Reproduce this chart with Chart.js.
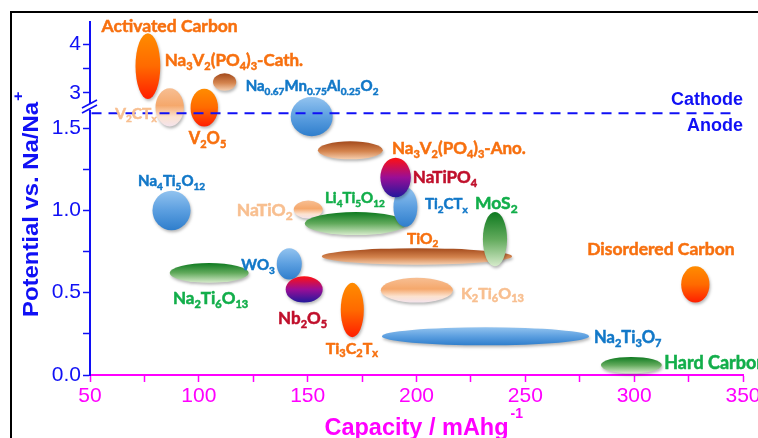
<!DOCTYPE html>
<html>
<head>
<meta charset="utf-8">
<script src="https://cdn.jsdelivr.net/npm/chart.js@4.4.1/dist/chart.umd.min.js"></script>
<style>
  html, body { margin: 0; padding: 0; background: #fff; overflow: hidden; width: 758px; height: 438px; }
  #wrap { position: absolute; left: 0; top: 0; width: 800px; height: 438px; }
</style>
</head>
<body>
<div id="wrap"><canvas id="chart" width="800" height="438"></canvas></div>
<script>
// ---- data: capacity (mAh/g) and potential (V vs Na/Na+) window of each material ----
const materials = ['Activated Carbon', 'Na3V2(PO4)3-Cath.', 'V2CTx', 'V2O5', 'Na0.67Mn0.75Al0.25O2',
  'Na3V2(PO4)3-Ano.', 'NaTiO2', 'Li4Ti5O12', 'Ti2CTx', 'NaTiPO4', 'TiO2', 'MoS2', 'Na4Ti5O12', 'WO3',
  'Nb2O5', 'Na2Ti6O13', 'Ti3C2Tx', 'K2Ti6O13', 'Na2Ti3O7', 'Hard Carbon', 'Disordered Carbon'];
const capacityMin = [70.9, 106.5, 80.1, 96.2, 142.2, 154.7, 143.6, 148.7, 189.4, 183.4, 156.5, 230.5, 78.7, 135.8, 139.9, 86.6, 165.2, 183.6, 184.1, 284.7, 321.6];
const capacityMax = [82.3, 117.2, 93.1, 108.8, 161.5, 184.5, 156.9, 195.6, 200.4, 197.4, 243.9, 241.6, 96.2, 147.3, 156.9, 122.9, 175.8, 216.7, 279.3, 312.7, 334.6];
const potentialMin = [2.87, 3.04, 1.51, 1.51, 1.45, 1.31, 0.95, 0.85, 0.90, 1.08, 0.67, 0.66, 0.88, 0.58, 0.44, 0.56, 0.23, 0.44, 0.18, 0.01, 0.44];
const potentialMax = [4.23, 3.40, 3.09, 3.08, 2.91, 1.42, 1.06, 0.99, 1.14, 1.32, 0.77, 0.99, 1.12, 0.77, 0.60, 0.68, 0.56, 0.59, 0.29, 0.11, 0.66];

// label text, {..} = subscript
const labelText = ['Activated Carbon', 'Na{3}V{2}(PO{4}){3}-Cath.', 'V{2}CT{x}', 'V{2}O{5}', 'Na{0.67}Mn{0.75}Al{0.25}O{2}',
  'Na{3}V{2}(PO{4}){3}-Ano.', 'NaTiO{2}', 'Li{4}Ti{5}O{12}', 'Ti{2}CT{x}', 'NaTiPO{4}', 'TiO{2}', 'MoS{2}', 'Na{4}Ti{5}O{12}', 'WO{3}',
  'Nb{2}O{5}', 'Na{2}Ti{6}O{13}', 'Ti{3}C{2}T{x}', 'K{2}Ti{6}O{13}', 'Na{2}Ti{3}O{7}', 'Hard Carbon', 'Disordered Carbon'];

const capacityTicks = [50, 100, 150, 200, 250, 300, 350];
const lowerPotentialTicks = [0, 0.5, 1.0, 1.5];
const upperPotentialTicks = [3, 4];
const cathodeAnodeSplit = 1.59;
const splitLine = [50.7, 345.5];

// ---- layout / style (not data) ----
const AXIS_BREAK = 2.0; // potentials above this go on the upper axis segment
const labelAnchor = [ // [capacity, potential, align]
  [55.3, 4.378, 'left'], [84.3, 3.676, 'left'], [80.6, 1.592, 'right'], [104.0, 1.44, 'center'], [121.5, 3.14, 'left'],
  [188.7, 1.379, 'left'], [143.1, 1.002, 'right'], [171.7, 1.075, 'center'], [203.9, 1.039, 'left'], [198.3, 1.203, 'left'],
  [195.6, 0.832, 'left'], [226.9, 1.045, 'left'], [87.5, 1.179, 'center'], [134.9, 0.668, 'right'], [147.7, 0.346, 'center'],
  [105.4, 0.468, 'center'], [170.3, 0.164, 'center'], [220.4, 0.498, 'left'], [281.6, 0.231, 'left'], [313.8, 0.073, 'left'],
  [278.4, 0.766, 'left']
];
const labelSize = [17.5, 17, 15.5, 16.5, 15, 17, 17.5, 15, 15, 17, 15.5, 17.5, 15, 15, 17, 17, 16, 16, 16.5, 18, 17.5];
const fillKind = ['fire', 'brown', 'peach', 'fire', 'blue', 'brown', 'peach', 'green', 'blue', 'purple', 'brown', 'green',
  'blue', 'blue', 'purple', 'green', 'fire', 'peach', 'blue', 'green', 'fire'];
const textKind = ['orange', 'orange', 'peach', 'orange', 'blue', 'orange', 'peach', 'green', 'blue', 'crimson', 'orange', 'green',
  'blue', 'blue', 'crimson', 'green', 'orange', 'peach', 'blue', 'green', 'orange'];
const gradients = {
  fire:   [[0, '#FF8C00'], [0.5, '#FF6A00'], [1, '#FF1E00']],
  brown:  [[0, '#A34A1C'], [0.55, '#D4844E'], [1, '#F6CFB0']],
  peach:  [[0, '#F7BE92'], [0.45, '#F5A86C'], [0.75, '#FCE2CF'], [1, '#F3E3EC']],
  blue:   [[0, '#92C3EF'], [0.5, '#5C9FE0'], [1, '#2F7ECC']],
  green:  [[0, '#0E7A20'], [0.5, '#62AA5C'], [1, '#D6EBCB']],
  purple: [[0, '#FF1010'], [0.5, '#9A0E96'], [1, '#22189C']]
};
const textColors = { orange: '#F7700F', peach: '#F8BF90', blue: '#1278C8', green: '#12AE4A', crimson: '#C0102C' };
const AXIS_BLUE = '#1010F5';
const MAGENTA = '#FF00FF';

function potentialPixel(chart, v) {
  return v > AXIS_BREAK ? chart.scales.yTop.getPixelForValue(v) : chart.scales.y.getPixelForValue(v);
}

function drawRich(ctx, text, x, y, align, size, color) {
  const parts = [];
  text.replace(/\{([^}]*)\}|([^{]+)/g, (m, sub, main) => {
    parts.push(sub !== undefined ? { t: sub, sub: true } : { t: main, sub: false });
  });
  const mainFont = `bold ${size}px Lato, sans-serif`;
  const subFont = `bold ${Math.round(size * 0.66)}px Lato, sans-serif`;
  let width = 0;
  parts.forEach(p => { ctx.font = p.sub ? subFont : mainFont; p.w = ctx.measureText(p.t).width; width += p.w; });
  let cx = align === 'left' ? x : align === 'right' ? x - width : x - width / 2;
  const base = y + size * 0.36;
  ctx.fillStyle = color;
  ctx.strokeStyle = color;
  ctx.lineWidth = 0.5;
  ctx.textAlign = 'left';
  ctx.textBaseline = 'alphabetic';
  parts.forEach(p => {
    ctx.font = p.sub ? subFont : mainFont;
    const yy = p.sub ? base + size * 0.22 : base;
    ctx.fillText(p.t, cx, yy);
    ctx.strokeText(p.t, cx, yy);
    cx += p.w;
  });
}

const ellipsePlugin = {
  id: 'ellipses',
  beforeDatasetsDraw(chart) {
    const ctx = chart.ctx;
    const xs = chart.scales.x;
    materials.forEach((name, i) => {
      const x0 = xs.getPixelForValue(capacityMin[i]);
      const x1 = xs.getPixelForValue(capacityMax[i]);
      const yTop = potentialPixel(chart, potentialMax[i]);
      const yBot = potentialPixel(chart, potentialMin[i]);
      const g = ctx.createLinearGradient(0, yTop, 0, yBot);
      gradients[fillKind[i]].forEach(([o, c]) => g.addColorStop(o, c));
      ctx.save();
      ctx.shadowColor = 'rgba(0,0,0,0.28)';
      ctx.shadowBlur = 3;
      ctx.shadowOffsetX = 1;
      ctx.shadowOffsetY = 2;
      ctx.beginPath();
      ctx.ellipse((x0 + x1) / 2, (yTop + yBot) / 2, (x1 - x0) / 2, (yBot - yTop) / 2, 0, 0, Math.PI * 2);
      ctx.fillStyle = g;
      ctx.fill();
      ctx.restore();
    });
  },
  afterDatasetsDraw(chart) {
    const ctx = chart.ctx;
    const xs = chart.scales.x;
    ctx.save();
    materials.forEach((name, i) => {
      const [c, p, align] = labelAnchor[i];
      drawRich(ctx, labelText[i], xs.getPixelForValue(c), potentialPixel(chart, p), align, labelSize[i], textColors[textKind[i]]);
    });
    // cathode / anode
    const ySplit = chart.scales.y.getPixelForValue(cathodeAnodeSplit);
    ctx.font = 'bold 18px "Liberation Sans", Arial, sans-serif';
    ctx.fillStyle = AXIS_BLUE;
    ctx.textAlign = 'right';
    ctx.textBaseline = 'middle';
    ctx.fillText('Cathode', chart.chartArea.right, ySplit - 13);
    ctx.fillText('Anode', chart.chartArea.right, ySplit + 13);
    ctx.restore();
  },
  afterDraw(chart) {
    const ctx = chart.ctx;
    const area = chart.chartArea;
    ctx.save();
    // outer frame
    ctx.strokeStyle = '#000';
    ctx.lineWidth = 2;
    ctx.beginPath();
    ctx.moveTo(11, 800);
    ctx.lineTo(11, 12);
    ctx.lineTo(800, 12);
    ctx.stroke();

    // axis break marks
    const xb = area.left;
    const yb = chart.scales.y.top;
    ctx.fillStyle = '#fff';
    ctx.fillRect(xb - 2, yb - 3, 4, 6);
    ctx.strokeStyle = AXIS_BLUE;
    ctx.lineWidth = 1.6;
    ctx.beginPath();
    ctx.moveTo(xb - 8, yb + 1); ctx.lineTo(xb + 7, yb - 7);
    ctx.moveTo(xb - 8, yb + 6); ctx.lineTo(xb + 7, yb - 2);
    ctx.stroke();

    // y title
    ctx.translate(37.5, 317);
    ctx.rotate(-Math.PI / 2);
    ctx.font = 'bold 22px "Liberation Sans", Arial, sans-serif';
    const main = 'Potential vs. Na/Na';
    const w = ctx.measureText(main).width;
    const sx = 215 / w;
    ctx.scale(sx, 1);
    ctx.fillStyle = AXIS_BLUE;
    ctx.textAlign = 'left';
    ctx.textBaseline = 'alphabetic';
    ctx.fillText(main, 0, 0);
    ctx.font = 'bold 15px "Liberation Sans", Arial, sans-serif';
    ctx.fillText('+', w + 1, -15);
    ctx.setTransform(1, 0, 0, 1, 0, 0);

    // x title
    ctx.fillStyle = MAGENTA;
    ctx.font = 'bold 23.5px "Liberation Sans", Arial, sans-serif';
    const xt = 'Capacity / mAhg';
    const xw = ctx.measureText(xt).width;
    const xl = (area.left + area.right) / 2 - xw / 2;
    ctx.fillText(xt, xl, 435);
    ctx.font = 'bold 14px "Liberation Sans", Arial, sans-serif';
    ctx.fillText('-1', xl + xw + 2, 418);
    ctx.restore();
  }
};

const minorEvery = (arr, step) => {
  const out = [];
  for (let v = arr[0]; v <= arr[arr.length - 1] + 1e-9; v += step) out.push({ value: +v.toFixed(3) });
  return out;
};

const tickFont = { family: '"Liberation Sans", Arial, sans-serif', size: 21 };

new Chart(document.getElementById('chart'), {
  type: 'scatter',
  data: {
    datasets: [{
      label: 'Cathode / Anode',
      data: splitLine.map(c => ({ x: c, y: cathodeAnodeSplit })),
      showLine: true,
      borderColor: AXIS_BLUE,
      borderWidth: 1.8,
      borderDash: [10, 7],
      pointRadius: 0,
      yAxisID: 'y'
    }]
  },
  options: {
    responsive: false,
    animation: false,
    layout: { padding: { left: 0, top: 22, right: 57, bottom: 0 } },
    plugins: { legend: { display: false }, tooltip: { enabled: false } },
    scales: {
      x: {
        type: 'linear', min: 50, max: 350,
        afterBuildTicks: s => { s.ticks = minorEvery(capacityTicks, 25); },
        afterFit: s => { s.height = 63; },
        ticks: {
          autoSkip: false, maxRotation: 0, minRotation: 0, padding: 2, color: MAGENTA, font: tickFont,
          callback: v => capacityTicks.includes(v) ? String(v) : ''
        },
        grid: { drawOnChartArea: false, drawTicks: true, tickLength: 7, tickColor: MAGENTA, tickWidth: 1.5 },
        border: { color: MAGENTA, width: 2 }
      },
      y: {
        type: 'linear', position: 'left', stack: 'potential', stackWeight: 268,
        min: 0, max: 1.628,
        afterBuildTicks: s => { s.ticks = minorEvery(lowerPotentialTicks, 0.25); },
        afterFit: s => { s.width = 90; },
        ticks: {
          autoSkip: false, padding: 2, color: AXIS_BLUE, font: tickFont,
          callback: v => lowerPotentialTicks.includes(v) ? v.toFixed(1) : ''
        },
        grid: { drawOnChartArea: false, drawTicks: true, tickLength: 7, tickColor: AXIS_BLUE, tickWidth: 1.5 },
        border: { color: AXIS_BLUE, width: 2 }
      },
      yTop: {
        type: 'linear', position: 'left', stack: 'potential', stackWeight: 85,
        min: 2.705, max: 4.46,
        afterBuildTicks: s => { s.ticks = minorEvery(upperPotentialTicks, 0.5); },
        afterFit: s => { s.width = 90; },
        ticks: {
          autoSkip: false, padding: 2, color: AXIS_BLUE, font: tickFont,
          callback: v => upperPotentialTicks.includes(v) ? String(v) : ''
        },
        grid: { drawOnChartArea: false, drawTicks: true, tickLength: 7, tickColor: AXIS_BLUE, tickWidth: 1.5 },
        border: { color: AXIS_BLUE, width: 2 }
      }
    }
  },
  plugins: [ellipsePlugin]
});
</script>
</body>
</html>
